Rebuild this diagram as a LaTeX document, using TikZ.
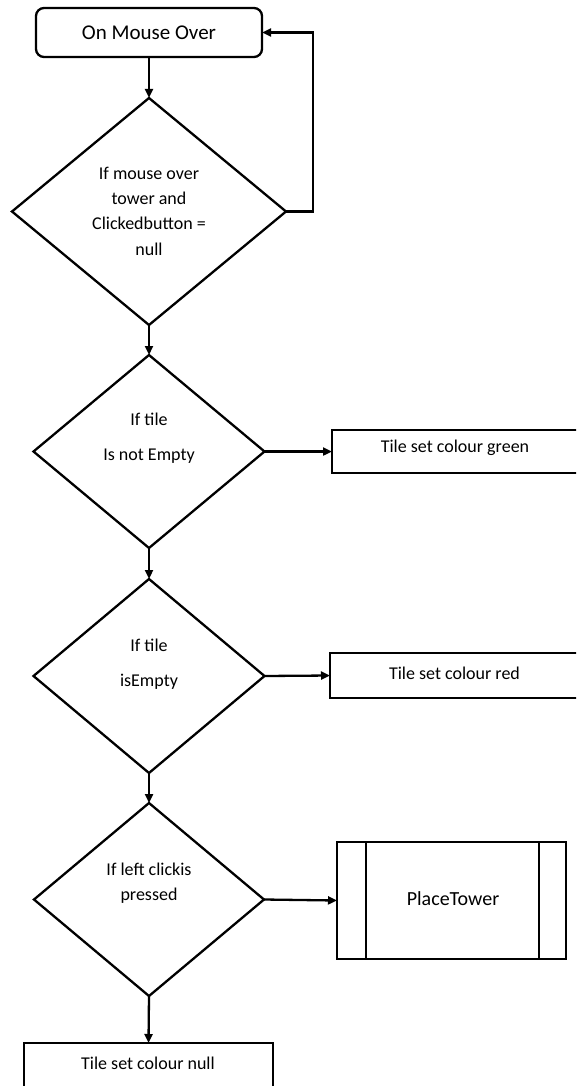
\documentclass[tikz,border=0pt]{standalone}
\usepackage{fontspec}
\setmainfont{Carlito}
\usetikzlibrary{shapes.geometric,arrows.meta}

\begin{document}
\begin{tikzpicture}[x=1pt,y=-1pt,
  every node/.style={inner sep=0pt, outer sep=0pt},
  txt/.style={font=\fontsize{18}{25.3}\selectfont, align=center, text=black},
  startbox/.style={draw, line width=2.3pt, rounded corners=8pt, rectangle,
    minimum width=226pt, minimum height=49pt, font=\fontsize{21}{25}\selectfont},
  decision/.style={draw, line width=2.3pt, diamond},
  actbox/.style={draw, line width=2.7pt, rectangle},
  conn/.style={line width=2.3pt, -{Triangle[length=9pt,width=8pt]}}]

\useasboundingbox (0,0) rectangle (576,1086);
\clip (0,0) rectangle (576,1086);

% start terminal
\node[startbox] (start) at (149,32.5) {On Mouse Over};

% first decision with its loop back to the start
\node[decision, minimum width=274pt, minimum height=227pt] (d1) at (149,211.5) {};
\node[txt] (d1t) at (149,211) {If mouse over\\tower and\\Clickedbutton =\\null};

% second decision
\node[decision, minimum width=231pt, minimum height=193pt] (d2) at (149,451.5) {};
\node[txt] (d2t) at (149,438) {If tile\\[10pt]Is not Empty};
\node[actbox, minimum width=248pt, minimum height=43pt] (green) at (456,451.5) {};
\node[txt] (greent) at (455,448) {Tile set colour green};

% third decision
\node[decision, minimum width=231pt, minimum height=194pt] (d3) at (149,676) {};
\node[txt] (d3t) at (149,664) {If tile\\[10pt]isEmpty};
\node[actbox, minimum width=250pt, minimum height=45pt] (red) at (455,675.5) {};
\node[txt] (redt) at (454.5,673) {Tile set colour red};

% fourth decision
\node[decision, minimum width=230pt, minimum height=193pt] (d4) at (149,899.5) {};
\node[txt] (d4t) at (149,883) {If left clickis\\pressed};

% predefined process
\node[actbox, minimum width=229pt, minimum height=117pt] (place) at (451.5,900.5) {};
\node[txt, font=\fontsize{20}{24}\selectfont] (placet) at (453,899) {PlaceTower};
\draw[line width=2.7pt] ([xshift=29pt]place.north west) -- ([xshift=29pt]place.south west);
\draw[line width=2.7pt] ([xshift=-27pt]place.north east) -- ([xshift=-27pt]place.south east);

% final action
\node[actbox, minimum width=249pt, minimum height=50pt, anchor=north] (null) at (148.5,1043) {};
\node[txt] (nullt) at (148,1063) {Tile set colour null};

% connectors
\draw[conn] (start.south) -- (d1.north);
\draw[conn] (d1.east) -- ++(27,0) |- (start.east);
\draw[conn] (d1.south) -- (d2.north);
\draw[conn] (d2.east) -- (green.west);
\draw[conn] (d2.south) -- (d3.north);
\draw[conn] (d3.east) -- (red.west);
\draw[conn] (d3.south) -- (d4.north);
\draw[conn] (d4.east) -- (place.west);
\draw[conn] (d4.south) -- (null.north);
\end{tikzpicture}
\end{document}
